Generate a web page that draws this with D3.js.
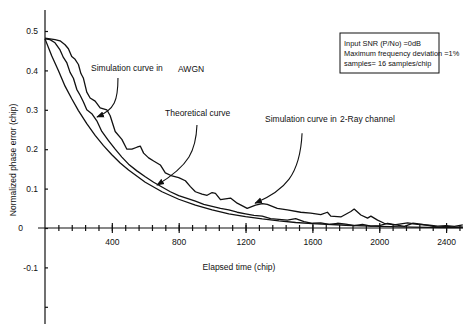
<!DOCTYPE html>
<html>
<head>
<meta charset="utf-8">
<style>
  body { margin: 0; background: #fff; }
  svg text { font-family: "Liberation Sans", Arial, sans-serif; fill: #111; }
  .curve { fill: none; stroke: #111; stroke-width: 1.3; stroke-linejoin: round; }
  .axis path, .axis line { stroke: #111; stroke-width: 1.2; }
  .axis text { font-size: 8.5px; }
</style>
</head>
<body>
<svg id="chart" width="465" height="324"></svg>
<script src="https://cdn.jsdelivr.net/npm/d3@7"></script>
<script>
// elapsed time (chip) and normalized phase error
const theoT = [0, 40, 80, 120, 160, 200, 250, 300, 350, 400, 450, 500, 600, 700, 800, 900, 1000, 1100, 1200, 1300, 1400, 1500, 1600, 1800, 2000, 2200, 2400, 2500];
const theoY = [0.480, 0.437, 0.400, 0.360, 0.328, 0.298, 0.265, 0.235, 0.209, 0.186, 0.165, 0.147, 0.116, 0.092, 0.073, 0.058, 0.046, 0.036, 0.029, 0.023, 0.018, 0.014, 0.011, 0.007, 0.004, 0.002, 0.001, 0.001];

const awgnT = [0, 30, 60, 90, 110, 130, 150, 170, 190, 210, 230, 250, 280, 310, 340, 380, 420, 460, 500, 550, 600, 650, 700, 750, 800, 850, 900, 950, 1000, 1050, 1100, 1150, 1200, 1250, 1300, 1350, 1400, 1450, 1500, 1550, 1600, 1650, 1700, 1750, 1800, 1850, 1900, 1950, 2000, 2050, 2100, 2150, 2200, 2250, 2300, 2350, 2400, 2450, 2500];
const awgnY = [0.480, 0.478, 0.470, 0.452, 0.433, 0.420, 0.395, 0.380, 0.352, 0.337, 0.320, 0.300, 0.290, 0.272, 0.245, 0.222, 0.200, 0.180, 0.162, 0.145, 0.130, 0.116, 0.104, 0.092, 0.082, 0.075, 0.068, 0.060, 0.055, 0.050, 0.046, 0.040, 0.036, 0.032, 0.030, 0.024, 0.022, 0.020, 0.024, 0.016, 0.012, 0.013, 0.009, 0.012, 0.010, 0.006, 0.009, 0.005, 0.006, 0.012, 0.008, 0.004, 0.012, 0.010, 0.006, 0.002, 0.004, 0.002, 0.003];

const rayT = [0, 30, 60, 90, 120, 140, 160, 180, 200, 215, 230, 250, 270, 300, 330, 370, 390, 420, 460, 490, 520, 550, 570, 590, 620, 650, 690, 720, 760, 800, 840, 870, 900, 940, 970, 1000, 1020, 1050, 1080, 1110, 1150, 1210, 1260, 1300, 1330, 1390, 1450, 1530, 1590, 1650, 1690, 1710, 1770, 1830, 1850, 1890, 1930, 1950, 1990, 2030, 2090, 2170, 2230, 2300, 2350, 2400, 2450, 2500];
const rayY = [0.482, 0.480, 0.478, 0.475, 0.465, 0.455, 0.435, 0.428, 0.415, 0.392, 0.380, 0.345, 0.330, 0.322, 0.305, 0.300, 0.285, 0.245, 0.225, 0.200, 0.200, 0.205, 0.208, 0.190, 0.178, 0.170, 0.160, 0.140, 0.132, 0.128, 0.120, 0.105, 0.092, 0.086, 0.083, 0.090, 0.088, 0.072, 0.074, 0.076, 0.063, 0.050, 0.058, 0.062, 0.060, 0.050, 0.046, 0.040, 0.038, 0.034, 0.040, 0.030, 0.028, 0.042, 0.048, 0.033, 0.025, 0.030, 0.020, 0.012, 0.008, 0.013, 0.009, 0.007, 0.005, 0.006, 0.004, 0.008];

const xLabels = [400, 800, 1200, 1600, 2000, 2400];
const yLabels = [-0.1, 0, 0.1, 0.2, 0.3, 0.4, 0.5];
const legendLines = ["Input SNR (P/No) =0dB", "Maximum frequency deviation =1%", "samples= 16 samples/chip"];

const svg = d3.select("#chart");

const x = d3.scaleLinear().domain([0, 2500]).range([45, 462.8]);
const y = d3.scaleLinear().domain([0, 0.5]).range([228, 31]);

// y axis
const yAxis = svg.append("g").attr("class", "axis")
  .attr("transform", "translate(45,0)")
  .call(d3.axisLeft(y).tickValues(d3.range(-0.2, 0.51, 0.1)).tickSize(-3).tickSizeOuter(0)
    .tickFormat(d => {
      const v = Math.round(d * 10) / 10;
      return yLabels.includes(v) ? (v === 0 ? "0" : v.toFixed(1)) : "";
    }));
yAxis.select(".domain").attr("d", `M0,10V324`);
yAxis.selectAll(".tick text").attr("x", -7);
yAxis.selectAll(".tick").filter(d => Math.abs(d) < 1e-9).select("text").attr("x", -22);

// x axis, minor ticks every 80 chips
const xAxis = svg.append("g").attr("class", "axis")
  .attr("transform", `translate(0,${y(0)})`)
  .call(d3.axisBottom(x).tickValues(d3.range(80, 2500, 80)).tickSize(3).tickFormat(""));
xAxis.select(".domain").attr("d", `M38,0H463`);
xAxis.selectAll(".tick line").attr("y1", -3);

const xMajor = svg.append("g").attr("class", "axis")
  .attr("transform", `translate(0,${y(0)})`)
  .call(d3.axisBottom(x).tickValues(xLabels).tickSize(5).tickPadding(6).tickFormat(d3.format("d")));
xMajor.select(".domain").remove();
xMajor.selectAll(".tick line").attr("y1", -5);

// curves
const line = d3.line().x(d => x(d[0])).y(d => y(d[1]));
[[theoT, theoY], [awgnT, awgnY], [rayT, rayY]].forEach(([ts, vs]) => {
  svg.append("path").attr("class", "curve").attr("d", line(ts.map((t, i) => [t, vs[i]])));
});

// axis titles
svg.append("text").attr("x", 239).attr("y", 270).attr("text-anchor", "middle")
  .style("font-size", "8.5px").text("Elapsed time (chip)");
svg.append("text").attr("transform", "translate(16,160) rotate(-90)").attr("text-anchor", "middle")
  .style("font-size", "8.5px").text("Normalized phase error (chip)");

// legend box
svg.append("rect").attr("x", 340).attr("y", 33).attr("width", 99).attr("height", 40)
  .attr("fill", "#fff").attr("stroke", "#111").attr("stroke-width", 1);
legendLines.forEach((s, i) => {
  svg.append("text").attr("x", 344).attr("y", 46 + i * 10).style("font-size", "7.4px").text(s);
});

// annotations with curved arrows
svg.append("defs").append("marker").attr("id", "head")
  .attr("viewBox", "0 0 10 10").attr("refX", 9).attr("refY", 5)
  .attr("markerWidth", 7).attr("markerHeight", 7).attr("orient", "auto")
  .append("path").attr("d", "M0,1L10,5L0,9Z").attr("fill", "#111");

const notes = [
  { t: 311, v: 0.282, path: [[21, -39], [21, -17], [18, -7]], text: [["Simulation curve in", 91, 71], ["AWGN", 178, 72]] },
  { t: 670, v: 0.109, path: [[40, -60], [39, -35], [33, -20]], text: [["Theoretical curve", 165, 116]] },
  { t: 1257, v: 0.063, path: [[47, -70], [45, -28], [30, -13]], text: [["Simulation curve in", 265, 122], ["2-Ray channel", 340, 122]] }
];
notes.forEach(n => {
  const px = x(n.t), py = y(n.v);
  const p = n.path.map(o => [px + o[0], py + o[1]]);
  svg.append("path").attr("fill", "none").attr("stroke", "#111").attr("stroke-width", 1.1)
    .attr("marker-end", "url(#head)")
    .attr("d", `M${p[0]}C${p[1]} ${p[2]} ${px},${py}`);
  n.text.forEach(([s, tx, ty]) => {
    svg.append("text").attr("x", tx).attr("y", ty).style("font-size", "8.5px").text(s);
  });
});
</script>
</body>
</html>
